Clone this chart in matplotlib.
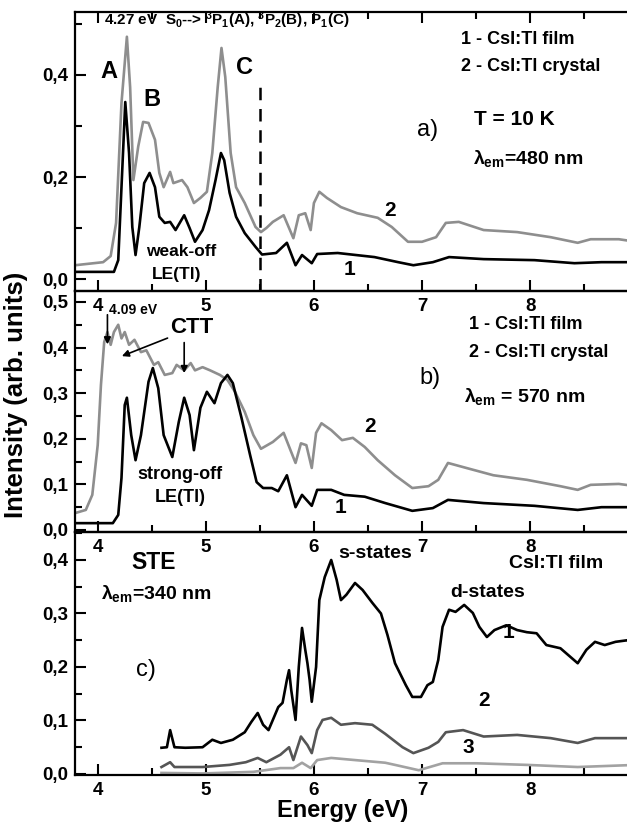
import numpy as np
import matplotlib
matplotlib.use('Agg')
import matplotlib.pyplot as plt
from matplotlib.ticker import MultipleLocator, FuncFormatter

plt.rcParams['font.family'] = ['Liberation Sans', 'DejaVu Sans']
plt.rcParams['font.weight'] = 'bold'
plt.rcParams['mathtext.fontset'] = 'custom'
plt.rcParams['mathtext.rm'] = 'Liberation Sans:bold'
plt.rcParams['mathtext.bf'] = 'Liberation Sans:bold'
plt.rcParams['mathtext.it'] = 'Liberation Sans:bold'

# ── data ─────────────────────────────────────────────────────────
# a) lambda_em = 480 nm
a_cryst_e = [3.79, 4.05, 4.12, 4.17, 4.22, 4.27, 4.30, 4.33, 4.375, 4.42, 4.47, 4.53,
             4.57, 4.61, 4.67, 4.70, 4.78, 4.83, 4.89, 4.95, 5.01, 5.06, 5.11, 5.145,
             5.18, 5.23, 5.28, 5.36, 5.46, 5.51, 5.56, 5.62, 5.72, 5.81, 5.86, 5.92,
             5.97, 6.00, 6.05, 6.12, 6.25, 6.40, 6.59, 6.72, 6.87, 7.00, 7.13, 7.22,
             7.34, 7.57, 7.88, 8.19, 8.44, 8.56, 8.82, 8.98]
a_cryst_i = [0.027, 0.033, 0.045, 0.11, 0.345, 0.475, 0.376, 0.194, 0.26, 0.308, 0.306, 0.273,
             0.208, 0.18, 0.21, 0.188, 0.194, 0.18, 0.149, 0.159, 0.171, 0.247, 0.376, 0.453,
             0.396, 0.247, 0.18, 0.149, 0.102, 0.092, 0.10, 0.112, 0.125, 0.08, 0.125, 0.129,
             0.096, 0.149, 0.171, 0.159, 0.141, 0.129, 0.12, 0.102, 0.073, 0.073, 0.082, 0.11,
             0.112, 0.096, 0.092, 0.082, 0.071, 0.078, 0.078, 0.073]
a_film_e = [3.79, 4.15, 4.19, 4.22, 4.255, 4.29, 4.32, 4.35, 4.385, 4.43, 4.48, 4.53,
            4.57, 4.62, 4.67, 4.72, 4.80, 4.85, 4.90, 4.97, 5.03, 5.09, 5.14, 5.17,
            5.22, 5.28, 5.36, 5.46, 5.52, 5.65, 5.75, 5.83, 5.89, 5.98, 6.03, 6.22,
            6.56, 6.78, 6.92, 7.10, 7.25, 7.57, 8.04, 8.41, 8.66, 8.98]
a_film_i = [0.014, 0.014, 0.037, 0.18, 0.347, 0.247, 0.102, 0.047, 0.102, 0.188, 0.208, 0.18,
            0.122, 0.11, 0.112, 0.096, 0.125, 0.10, 0.073, 0.096, 0.135, 0.194, 0.247, 0.233,
            0.169, 0.122, 0.09, 0.063, 0.048, 0.051, 0.071, 0.027, 0.047, 0.031, 0.049, 0.051,
            0.043, 0.033, 0.027, 0.033, 0.043, 0.039, 0.037, 0.031, 0.033, 0.033]

# b) lambda_em = 570 nm
b_cryst_e = [3.79, 3.89, 3.95, 4.00, 4.03, 4.06, 4.09, 4.12, 4.15, 4.19, 4.22, 4.25,
             4.29, 4.34, 4.40, 4.45, 4.52, 4.56, 4.62, 4.69, 4.73, 4.80, 4.86, 4.90,
             4.97, 5.04, 5.13, 5.20, 5.27, 5.36, 5.44, 5.51, 5.62, 5.72, 5.83, 5.88,
             5.93, 5.98, 6.02, 6.07, 6.16, 6.26, 6.36, 6.47, 6.59, 6.75, 6.91, 7.06,
             7.15, 7.24, 7.41, 7.66, 7.97, 8.28, 8.44, 8.56, 8.82, 8.98]
b_cryst_i = [0.037, 0.044, 0.077, 0.186, 0.318, 0.412, 0.434, 0.406, 0.434, 0.45, 0.42, 0.434,
             0.406, 0.417, 0.39, 0.394, 0.362, 0.368, 0.34, 0.344, 0.362, 0.35, 0.366, 0.35,
             0.357, 0.35, 0.34, 0.329, 0.303, 0.259, 0.208, 0.178, 0.193, 0.213, 0.147, 0.19,
             0.186, 0.136, 0.213, 0.234, 0.219, 0.197, 0.202, 0.182, 0.153, 0.12, 0.092, 0.096,
             0.11, 0.147, 0.136, 0.12, 0.11, 0.096, 0.088, 0.099, 0.101, 0.096]
b_film_e = [3.79, 4.14, 4.19, 4.22, 4.25, 4.27, 4.31, 4.35, 4.40, 4.47, 4.51, 4.56,
            4.61, 4.69, 4.75, 4.80, 4.85, 4.89, 4.95, 5.01, 5.08, 5.14, 5.20, 5.25,
            5.33, 5.41, 5.47, 5.53, 5.61, 5.67, 5.75, 5.83, 5.89, 5.98, 6.03, 6.16,
            6.28, 6.47, 6.66, 6.91, 7.10, 7.24, 7.57, 8.04, 8.44, 8.66, 8.98]
b_film_i = [0.015, 0.015, 0.033, 0.114, 0.274, 0.29, 0.208, 0.153, 0.208, 0.325, 0.355, 0.311,
            0.208, 0.16, 0.237, 0.29, 0.252, 0.175, 0.268, 0.303, 0.278, 0.322, 0.34, 0.322,
            0.246, 0.164, 0.105, 0.092, 0.092, 0.085, 0.12, 0.05, 0.077, 0.053, 0.088, 0.088,
            0.077, 0.073, 0.059, 0.042, 0.048, 0.066, 0.059, 0.053, 0.044, 0.05, 0.05]

# c) STE, lambda_em = 340 nm, CsI:Tl film (curves 1, 2, 3)
c1_e = [4.59, 4.64, 4.67, 4.71, 4.81, 4.97, 5.06, 5.14, 5.25, 5.36, 5.42, 5.48,
        5.53, 5.58, 5.62, 5.67, 5.71, 5.75, 5.77, 5.79, 5.83, 5.86, 5.89, 5.92,
        5.94, 5.96, 5.98, 6.02, 6.05, 6.10, 6.16, 6.21, 6.25, 6.30, 6.38, 6.45,
        6.54, 6.62, 6.68, 6.75, 6.85, 6.91, 6.99, 7.05, 7.10, 7.15, 7.19, 7.25,
        7.31, 7.39, 7.47, 7.53, 7.60, 7.67, 7.78, 7.88, 7.97, 8.06, 8.15, 8.28,
        8.44, 8.52, 8.60, 8.69, 8.79, 8.90, 8.98]
c1_i = [0.049, 0.05, 0.082, 0.05, 0.049, 0.05, 0.064, 0.058, 0.064, 0.078, 0.097, 0.114,
        0.092, 0.082, 0.101, 0.125, 0.133, 0.176, 0.194, 0.157, 0.101, 0.2, 0.273, 0.232,
        0.207, 0.176, 0.135, 0.2, 0.325, 0.368, 0.4, 0.363, 0.325, 0.335, 0.357, 0.344,
        0.32, 0.30, 0.26, 0.207, 0.166, 0.144, 0.144, 0.166, 0.172, 0.213, 0.275, 0.307,
        0.303, 0.316, 0.301, 0.275, 0.256, 0.269, 0.278, 0.269, 0.265, 0.263, 0.241, 0.235,
        0.207, 0.232, 0.247, 0.241, 0.247, 0.25, 0.235]
c2_e = [4.59, 4.67, 4.71, 4.97, 5.22, 5.37, 5.48, 5.56, 5.69, 5.77, 5.81, 5.88,
        5.94, 5.98, 6.03, 6.08, 6.16, 6.25, 6.38, 6.54, 6.66, 6.82, 6.92, 7.06,
        7.15, 7.22, 7.38, 7.57, 7.88, 8.19, 8.44, 8.60, 8.91, 8.98]
c2_i = [0.013, 0.022, 0.013, 0.013, 0.017, 0.022, 0.03, 0.022, 0.036, 0.05, 0.026, 0.07,
        0.054, 0.039, 0.082, 0.101, 0.105, 0.092, 0.095, 0.092, 0.075, 0.05, 0.039, 0.049,
        0.06, 0.078, 0.082, 0.07, 0.073, 0.067, 0.058, 0.067, 0.067, 0.06]
c3_e = [4.59, 4.97, 5.44, 5.69, 5.81, 5.89, 5.97, 6.03, 6.16, 6.38, 6.66, 6.75,
        6.97, 7.19, 7.50, 7.97, 8.44, 8.98]
c3_i = [0.002, 0.001, 0.004, 0.011, 0.011, 0.021, 0.011, 0.026, 0.03, 0.026, 0.021, 0.017,
        0.007, 0.02, 0.02, 0.017, 0.013, 0.017]

# ── style ─────────────────────────────────────────────────────────
BLACK = '#000000'
GRAY = '#8e8e8e'
DGRAY = '#555555'
LGRAY = '#a2a2a2'
LW = 1.9
XLIM = (3.79, 8.97)

fig = plt.figure(figsize=(6.27, 8.23), dpi=100, facecolor='white')
W = 627.0
H = 823.0


def add_panel(top, bottom):
    return fig.add_axes([75 / W, (H - bottom) / H, 560 / W, (bottom - top) / H])


comma = FuncFormatter(lambda v, p: f'{v:.1f}'.replace('.', ','))


def style(ax, ylim, ymaj, ymin_, top=False):
    ax.set_xlim(*XLIM)
    ax.set_ylim(*ylim)
    ax.xaxis.set_major_locator(MultipleLocator(1))
    ax.xaxis.set_minor_locator(MultipleLocator(0.5))
    ax.yaxis.set_major_locator(MultipleLocator(ymaj))
    ax.yaxis.set_minor_locator(MultipleLocator(ymin_))
    ax.yaxis.set_major_formatter(comma)
    ax.tick_params(which='both', direction='in', top=top, right=False,
                   labelsize=13.5, width=1.5)
    ax.tick_params(which='major', length=8, pad=5)
    ax.tick_params(which='minor', length=5)
    for lab in ax.get_xticklabels() + ax.get_yticklabels():
        lab.set_fontweight('bold')
    ax.spines['right'].set_visible(False)
    for s in ['left', 'bottom', 'top']:
        ax.spines[s].set_linewidth(1.6)
    ax.patch.set_alpha(0)


axa = add_panel(12, 291)
axb = add_panel(291, 532)
axc = add_panel(532, 775)
style(axa, (-0.0235, 0.5235), 0.2, 0.1, top=True)
style(axb, (-0.0044, 0.524), 0.1, 0.05)
style(axc, (-0.0019, 0.4523), 0.1, 0.05)

# ── panel a ───────────────────────────────────────────────────────
axa.plot(a_cryst_e, a_cryst_i, color=GRAY, lw=LW, solid_joinstyle='round')
axa.plot(a_film_e, a_film_i, color=BLACK, lw=LW, solid_joinstyle='round')
axa.plot([5.5, 5.5], [-0.0235, 0.376], color=BLACK, lw=1.8, ls=(0, (5, 3.5)))

axa.text(4.06, 0.508, r'4.27 eV  S$_0$--> $^3$P$_1$(A), $^3$P$_2$(B), P$_1$(C)',
         fontsize=11, va='center', ha='left')
axa.text(4.10, 0.406, 'A', fontsize=17, ha='center', va='center')
axa.text(4.50, 0.351, 'B', fontsize=17, ha='center', va='center')
axa.text(5.36, 0.414, 'C', fontsize=17, ha='center', va='center')
axa.text(4.77, 0.053, 'weak-off', fontsize=12.5, ha='center', va='center')
axa.text(4.73, 0.008, 'LE(Tl)', fontsize=12.5, ha='center', va='center')
axa.text(7.36, 0.469, '1 - CsI:Tl film', fontsize=13, ha='left', va='center')
axa.text(7.36, 0.416, '2 - CsI:Tl crystal', fontsize=13, ha='left', va='center')
axa.text(7.05, 0.292, 'a)', fontsize=17, fontweight='normal', ha='center', va='center')
axa.text(7.48, 0.312, 'T = 10 K', fontsize=15, ha='left', va='center')
axa.text(7.47, 0.237, r'$\lambda_{em}$=480 nm', fontsize=14, ha='left', va='center')
axa.text(6.70, 0.135, '2', fontsize=15, ha='center', va='center')
axa.text(6.33, 0.018, '1', fontsize=15, ha='center', va='center')

# ── panel b ───────────────────────────────────────────────────────
axb.plot(b_cryst_e, b_cryst_i, color=GRAY, lw=LW, solid_joinstyle='round')
axb.plot(b_film_e, b_film_i, color=BLACK, lw=LW, solid_joinstyle='round')

arrow = dict(arrowstyle='-|>', color=BLACK, lw=1.2, mutation_scale=10)
axb.text(4.10, 0.482, '4.09 eV', fontsize=10, ha='left', va='center')
axb.annotate('', xy=(4.09, 0.401), xytext=(4.09, 0.478), arrowprops=arrow)
axb.text(4.87, 0.445, 'CTT', fontsize=16, ha='center', va='center')
axb.annotate('', xy=(4.20, 0.379), xytext=(4.67, 0.423), arrowprops=arrow)
axb.annotate('', xy=(4.80, 0.338), xytext=(4.80, 0.417), arrowprops=arrow)
axb.text(4.76, 0.121, 'strong-off', fontsize=13, ha='center', va='center')
axb.text(4.76, 0.072, 'LE(Tl)', fontsize=13, ha='center', va='center')
axb.text(7.43, 0.450, '1 - CsI:Tl film', fontsize=13, ha='left', va='center')
axb.text(7.43, 0.390, '2 - CsI:Tl crystal', fontsize=13, ha='left', va='center')
axb.text(7.07, 0.333, 'b)', fontsize=17, fontweight='normal', ha='center', va='center')
axb.text(7.39, 0.292, r'$\lambda_{em}$ = 570 nm', fontsize=14, ha='left', va='center')
axb.text(6.52, 0.226, '2', fontsize=15, ha='center', va='center')
axb.text(6.25, 0.050, '1', fontsize=15, ha='center', va='center')

# ── panel c ───────────────────────────────────────────────────────
axc.plot(c1_e, c1_i, color=BLACK, lw=LW, solid_joinstyle='round')
axc.plot(c2_e, c2_i, color=DGRAY, lw=LW, solid_joinstyle='round')
axc.plot(c3_e, c3_i, color=LGRAY, lw=LW, solid_joinstyle='round')

axc.text(4.31, 0.396, 'STE', fontsize=16.5, ha='left', va='center')
axc.text(4.03, 0.338, r'$\lambda_{em}$=340 nm', fontsize=14, ha='left', va='center')
axc.text(4.45, 0.194, 'c)', fontsize=17, fontweight='normal', ha='center', va='center')
axc.text(6.57, 0.413, 's-states', fontsize=14, ha='center', va='center')
axc.text(7.80, 0.393, 'CsI:Tl film', fontsize=14, ha='left', va='center')
axc.text(7.61, 0.340, 'd-states', fontsize=14, ha='center', va='center')
axc.text(7.80, 0.264, '1', fontsize=15, ha='center', va='center')
axc.text(7.57, 0.138, '2', fontsize=15, ha='center', va='center')
axc.text(7.43, 0.050, '3', fontsize=15, ha='center', va='center')

# ── axis titles ───────────────────────────────────────────────────
fig.text(343 / W, (H - 811) / H, 'Energy (eV)', fontsize=17, ha='center', va='center')
fig.text(16 / W, (H - 395) / H, 'Intensity (arb. units)', fontsize=18.5,
         rotation=90, ha='center', va='center')

fig.savefig('out.png', dpi=100, facecolor='white')
